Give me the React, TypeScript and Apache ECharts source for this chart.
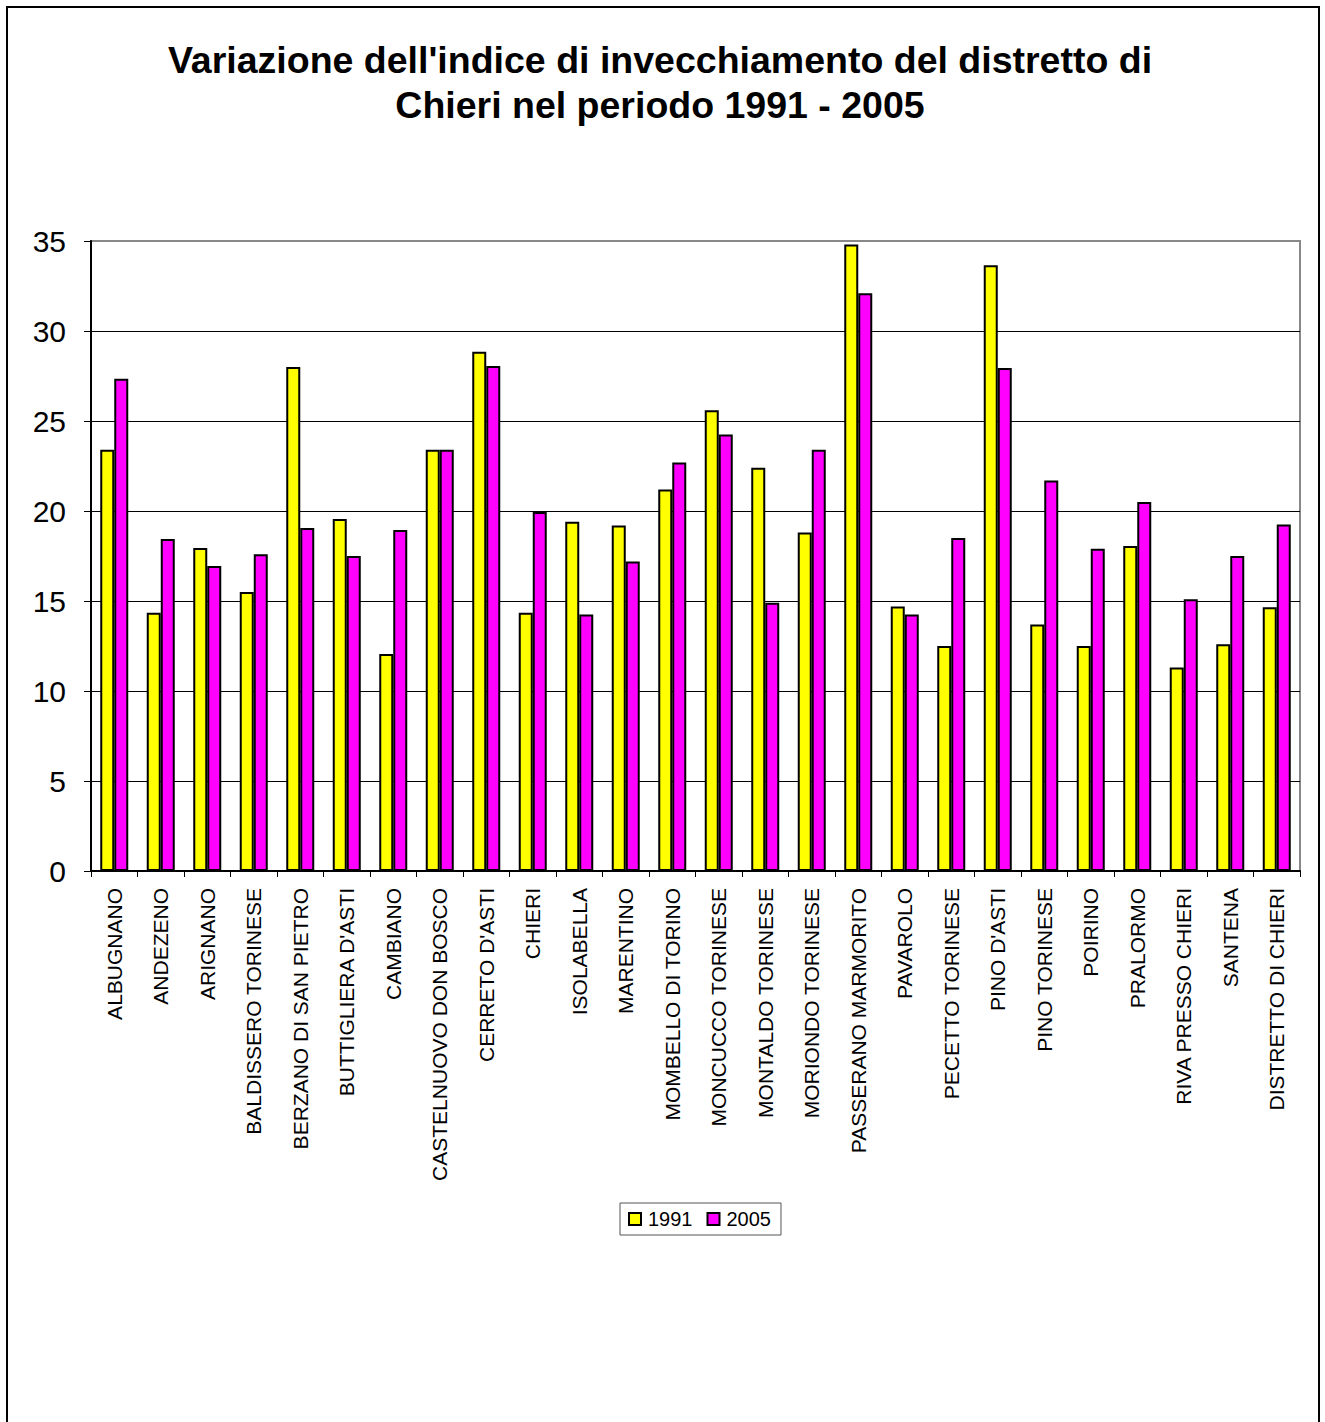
import React, { useEffect, useRef } from "react";
import * as echarts from "echarts";

const categories = [
  "ALBUGNANO", "ANDEZENO", "ARIGNANO", "BALDISSERO TORINESE", "BERZANO DI SAN PIETRO",
  "BUTTIGLIERA D'ASTI", "CAMBIANO", "CASTELNUOVO DON BOSCO", "CERRETO D'ASTI", "CHIERI",
  "ISOLABELLA", "MARENTINO", "MOMBELLO DI TORINO", "MONCUCCO TORINESE", "MONTALDO TORINESE",
  "MORIONDO TORINESE", "PASSERANO MARMORITO", "PAVAROLO", "PECETTO TORINESE", "PINO D'ASTI",
  "PINO TORINESE", "POIRINO", "PRALORMO", "RIVA PRESSO CHIERI", "SANTENA", "DISTRETTO DI CHIERI",
];

const values1991 = [
  23.4, 14.35, 17.95, 15.5, 28.0, 19.55, 12.05, 23.4, 28.85, 14.35,
  19.4, 19.2, 21.2, 25.6, 22.4, 18.8, 34.8, 14.7, 12.5, 33.65,
  13.7, 12.5, 18.05, 11.3, 12.6, 14.65,
];

const values2005 = [
  27.35, 18.45, 16.95, 17.6, 19.05, 17.5, 18.95, 23.4, 28.05, 19.95,
  14.25, 17.2, 22.7, 24.25, 14.9, 23.4, 32.1, 14.25, 18.5, 27.95,
  21.7, 17.9, 20.5, 15.1, 17.5, 19.25,
];

const seriesNames = ["1991", "2005"];
const yTicks = { min: 0, max: 35, interval: 5 };

const FONT = "'Liberation Sans', Arial, sans-serif";

export default function App() {
  const ref = useRef<HTMLDivElement>(null);

  useEffect(() => {
    if (!ref.current) return;
    const chart = echarts.init(ref.current, null, { renderer: "svg" });
    const barStyle = (color: string) => ({
      color,
      borderColor: "#000",
      borderWidth: 2,
    });
    chart.setOption({
      animation: false,
      backgroundColor: "#fff",
      textStyle: { fontFamily: FONT },
      graphic: [
        {
          type: "rect",
          z: 100,
          shape: { x: 7, y: 7, width: 1312, height: 1440 },
          style: { fill: "none", stroke: "#000", lineWidth: 2 },
          silent: true,
        },
        {
          type: "text",
          x: 660,
          y: 60,
          style: {
            text: "Variazione dell'indice di invecchiamento del distretto di",
            font: `bold 37.5px ${FONT}`,
            fill: "#000",
            align: "center",
            verticalAlign: "middle",
          },
        },
        {
          type: "text",
          x: 660,
          y: 105,
          style: {
            text: "Chieri nel periodo 1991 - 2005",
            font: `bold 37.5px ${FONT}`,
            fill: "#000",
            align: "center",
            verticalAlign: "middle",
          },
        },
      ],
      legend: {
        data: seriesNames,
        left: 620,
        top: 1203,
        orient: "horizontal",
        itemWidth: 12,
        itemHeight: 12,
        itemGap: 14,
        padding: [6, 10, 6, 8],
        borderColor: "#555",
        borderWidth: 1,
        backgroundColor: "#fff",
        icon: "rect",
        itemStyle: { borderColor: "#000", borderWidth: 2 },
        textStyle: { fontSize: 20, color: "#000", fontFamily: FONT, padding: [0, 0, 0, 2] },
      },
      grid: {
        left: 91,
        top: 241,
        width: 1209,
        height: 630,
        show: true,
        borderColor: "#888",
        borderWidth: 2,
        backgroundColor: "transparent",
        containLabel: false,
      },
      xAxis: {
        type: "category",
        data: categories,
        boundaryGap: true,
        axisLine: { show: true, lineStyle: { color: "#000", width: 2 } },
        axisTick: { show: true, alignWithLabel: false, length: 6, lineStyle: { color: "#000", width: 1 } },
        axisLabel: {
          interval: 0,
          rotate: 90,
          margin: 17,
          fontSize: 21,
          color: "#000",
          fontFamily: FONT,
        },
        splitLine: { show: false },
      },
      yAxis: {
        type: "value",
        min: yTicks.min,
        max: yTicks.max,
        interval: yTicks.interval,
        axisLine: { show: true, lineStyle: { color: "#000", width: 2 } },
        axisTick: { show: true, length: 7, lineStyle: { color: "#000", width: 1 } },
        axisLabel: { fontSize: 30, color: "#000", margin: 25, fontFamily: FONT },
        splitLine: {
          show: true,
          showMinLine: false,
          showMaxLine: false,
          lineStyle: { color: "#000", width: 1 },
        },
      },
      series: [
        {
          name: seriesNames[0],
          type: "bar",
          data: values1991,
          barWidth: 14,
          barGap: "0%",
          itemStyle: barStyle("#ffff00"),
        },
        {
          name: seriesNames[1],
          type: "bar",
          data: values2005,
          barWidth: 14,
          barGap: "0%",
          itemStyle: barStyle("#ff00ff"),
        },
      ],
    });
    return () => chart.dispose();
  }, []);

  return (
    <div
      ref={ref}
      style={{ position: "absolute", left: 0, top: 0, width: 1325, height: 1422 }}
    />
  );
}
